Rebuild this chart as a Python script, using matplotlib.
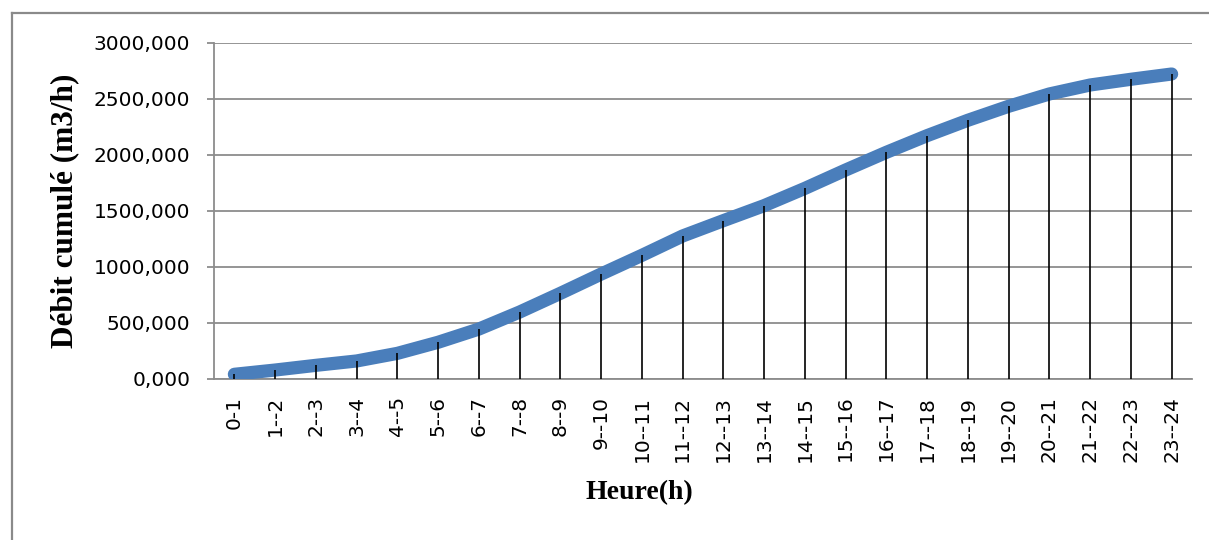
import matplotlib
matplotlib.use("Agg")
import matplotlib.pyplot as plt
from matplotlib.lines import Line2D
from matplotlib.ticker import FixedLocator, FuncFormatter

# Hourly intervals and cumulative flow (m3/h)
heures = ["0-1", "1--2", "2--3", "3--4", "4--5", "5--6", "6--7", "7--8", "8--9",
          "9--10", "10--11", "11--12", "12--13", "13--14", "14--15", "15--16",
          "16--17", "17--18", "18--19", "19--20", "20--21", "21--22", "22--23",
          "23--24"]
debit_cumule = [42, 80, 122, 161, 229, 328, 446, 598, 765, 937, 1104, 1277,
                1414, 1548, 1702, 1866, 2024, 2173, 2310, 2435, 2545, 2625,
                2676, 2723]
y_ticks = [0, 500, 1000, 1500, 2000, 2500, 3000]

W, H = 1209, 540
fig = plt.figure(figsize=(W / 100, H / 100), dpi=100)
fig.patch.set_facecolor("white")

# outer chart frame (top and left edges)
frame_col = "#8a8a8a"
fig.add_artist(Line2D([12 / W, 1.0], [1 - 13 / H, 1 - 13 / H],
                      transform=fig.transFigure, color=frame_col, lw=1.6))
fig.add_artist(Line2D([12 / W, 12 / W], [0.0, 1 - 13 / H],
                      transform=fig.transFigure, color=frame_col, lw=1.6))

ax = fig.add_axes([214 / W, 1 - 379 / H, (1192 - 214) / W, (379 - 43) / H])
x = list(range(len(heures)))

grid_col = "#8c8c8c"
ax.set_ylim(0, 3000)
ax.set_xlim(-0.5, len(heures) - 0.5)
ax.yaxis.set_major_locator(FixedLocator(y_ticks))
ax.yaxis.set_major_formatter(
    FuncFormatter(lambda v, p: f"{v:.3f}".replace(".", ",")))
ax.grid(axis="y", color=grid_col, lw=1.3)
ax.set_axisbelow(True)

for side in ("top", "right"):
    ax.spines[side].set_visible(False)
for side in ("left", "bottom"):
    ax.spines[side].set_color(grid_col)
    ax.spines[side].set_linewidth(1.3)

# cumulative curve
ax.plot(x, debit_cumule, color="#4a7ebb", lw=9.5, solid_capstyle="round",
        solid_joinstyle="round", zorder=3)
# drop lines from each point down to the axis
ax.vlines(x, 0, debit_cumule, color="black", lw=1.2, zorder=4)

ax.set_xticks(x)
ax.set_xticklabels(heures, rotation=90, ha="center", va="top")
ax.tick_params(axis="x", length=0, pad=12, labelsize=14.5)
ax.tick_params(axis="y", direction="out", length=5, width=1.3,
               color=grid_col, pad=12, labelsize=14.5)
for lab in ax.get_xticklabels() + ax.get_yticklabels():
    lab.set_fontfamily("DejaVu Sans")

fig.text(639 / W, 1 - 493 / H, "Heure(h)", ha="center", va="center",
         fontsize=20, fontweight="bold", family="Liberation Serif")
fig.text(65 / W, 1 - 211 / H, "Débit cumulé (m3/h)", ha="center",
         va="center", rotation=90, fontsize=22.5, fontweight="bold",
         family="Liberation Serif")

fig.savefig("out.png", dpi=100)
